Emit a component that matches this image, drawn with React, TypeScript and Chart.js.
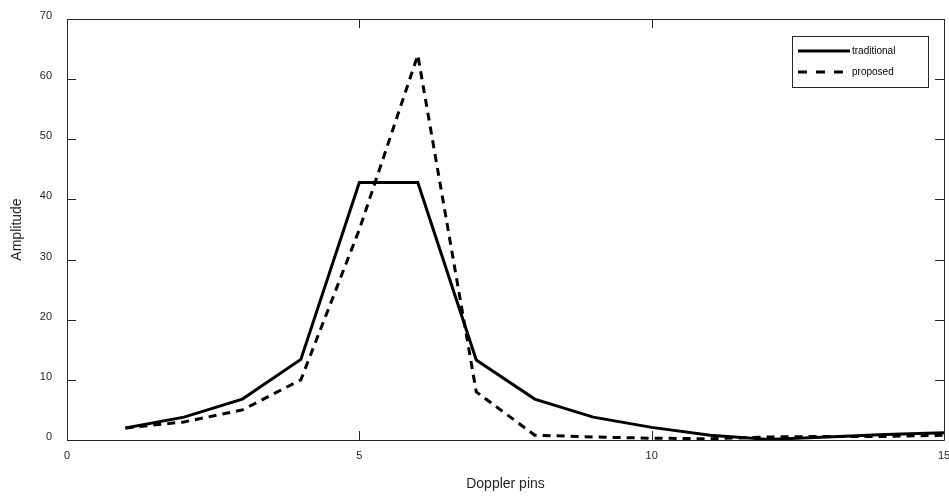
import React, { useEffect, useRef } from "react";
import { Chart, registerables } from "chart.js";

Chart.register(...registerables);

const dopplerPins = [1, 2, 3, 4, 5, 6, 7, 8, 9, 10, 11, 12, 13, 14, 15];
const traditional = [2.0, 3.8, 6.8, 13.4, 42.8, 42.8, 13.3, 6.8, 3.8, 2.1, 0.8, 0.1, 0.5, 0.9, 1.2];
const proposed = [2.0, 3.0, 5.0, 10.0, 35.0, 64.0, 8.0, 0.8, 0.5, 0.3, 0.2, 0.5, 0.6, 0.6, 0.8];
const xTicks = [0, 5, 10, 15];
const yTicks = [0, 10, 20, 30, 40, 50, 60, 70];
const seriesNames = ["traditional", "proposed"];

const FRAME = "#262626";
const FONT = "Arial, 'Liberation Sans', sans-serif";

const framePlugin = {
  id: "matlabFrame",
  afterDatasetsDraw(chart: any) {
    const { ctx, chartArea: a, scales } = chart;
    const xs = scales.x;
    const ys = scales.y;
    const L = 9;
    ctx.save();
    ctx.strokeStyle = FRAME;
    ctx.lineWidth = 1;
    ctx.setLineDash([]);
    ctx.beginPath();
    ctx.rect(Math.round(a.left) + 0.5, Math.round(a.top) + 0.5, Math.round(a.right - a.left), Math.round(a.bottom - a.top));
    ctx.stroke();
    ctx.beginPath();
    xTicks.forEach((v) => {
      const px = Math.round(xs.getPixelForValue(v)) + 0.5;
      ctx.moveTo(px, a.bottom);
      ctx.lineTo(px, a.bottom - L);
      ctx.moveTo(px, a.top);
      ctx.lineTo(px, a.top + L);
    });
    yTicks.forEach((v) => {
      const py = Math.round(ys.getPixelForValue(v)) + 0.5;
      ctx.moveTo(a.left, py);
      ctx.lineTo(a.left + L, py);
      ctx.moveTo(a.right, py);
      ctx.lineTo(a.right - L, py);
    });
    ctx.stroke();

    // legend box
    const bx = 792.5, by = 36.5, bw = 136, bh = 51;
    ctx.fillStyle = "#ffffff";
    ctx.fillRect(bx, by, bw, bh);
    ctx.strokeStyle = FRAME;
    ctx.lineWidth = 1;
    ctx.strokeRect(bx, by, bw, bh);
    const rows = [51, 72];
    ctx.font = `10px ${FONT}`;
    ctx.textBaseline = "middle";
    ctx.textAlign = "left";
    seriesNames.forEach((name, i) => {
      ctx.strokeStyle = "#000";
      ctx.lineWidth = 3;
      ctx.setLineDash(i === 0 ? [] : [9, 9]);
      ctx.beginPath();
      ctx.moveTo(798, rows[i]);
      ctx.lineTo(850, rows[i]);
      ctx.stroke();
      ctx.setLineDash([]);
      ctx.fillStyle = "#000";
      ctx.fillText(name, 852, rows[i]);
    });
    ctx.restore();
  },
};

export default function App() {
  const ref = useRef<HTMLCanvasElement | null>(null);
  useEffect(() => {
    document.body.style.margin = "0";
    const canvas = ref.current!;
    const chart = new Chart(canvas, {
      type: "line",
      data: {
        labels: dopplerPins,
        datasets: [
          {
            label: seriesNames[0],
            data: dopplerPins.map((x, i) => ({ x, y: traditional[i] })),
            borderColor: "#000",
            borderWidth: 3,
            pointRadius: 0,
            tension: 0,
            borderJoinStyle: "miter",
            fill: false,
          },
          {
            label: seriesNames[1],
            data: dopplerPins.map((x, i) => ({ x, y: proposed[i] })),
            borderColor: "#000",
            borderWidth: 3,
            borderDash: [8, 6],
            pointRadius: 0,
            tension: 0,
            borderJoinStyle: "miter",
            fill: false,
          },
        ],
      },
      options: {
        animation: false,
        responsive: false,
        maintainAspectRatio: false,
        layout: { padding: { top: 19, right: 5, left: 0, bottom: 0 } },
        plugins: { legend: { display: false }, tooltip: { enabled: false } },
        scales: {
          x: {
            type: "linear",
            min: 0,
            max: 15,
            grid: { display: false, drawTicks: false },
            border: { display: false },
            afterBuildTicks: (s: any) => { s.ticks = xTicks.map((v) => ({ value: v })); },
            afterFit: (s: any) => { s.height = 57; s.paddingLeft = 0; s.paddingRight = 0; },
            ticks: { color: FRAME, font: { family: FONT, size: 11 }, padding: 9, maxRotation: 0 },
            title: { display: true, text: "Doppler pins", color: FRAME, font: { family: FONT, size: 14 }, padding: { top: 0, bottom: 4 } },
          },
          y: {
            type: "linear",
            min: 0,
            max: 70,
            grid: { display: false, drawTicks: false },
            border: { display: false },
            afterBuildTicks: (s: any) => { s.ticks = yTicks.map((v) => ({ value: v })); },
            afterFit: (s: any) => { s.width = 67; s.paddingTop = 0; s.paddingBottom = 0; },
            ticks: { color: FRAME, font: { family: FONT, size: 11 }, padding: 15, labelOffset: -3 },
            title: { display: true, text: "Amplitude", color: FRAME, font: { family: FONT, size: 14 }, padding: { top: 9, bottom: 0 } },
          },
        },
      },
      plugins: [framePlugin],
    } as any);
    return () => chart.destroy();
  }, []);
  return (
    <div style={{ width: 949, height: 497 }}>
      <canvas ref={ref} width={949} height={497} style={{ display: "block", width: 949, height: 497 }} />
    </div>
  );
}
